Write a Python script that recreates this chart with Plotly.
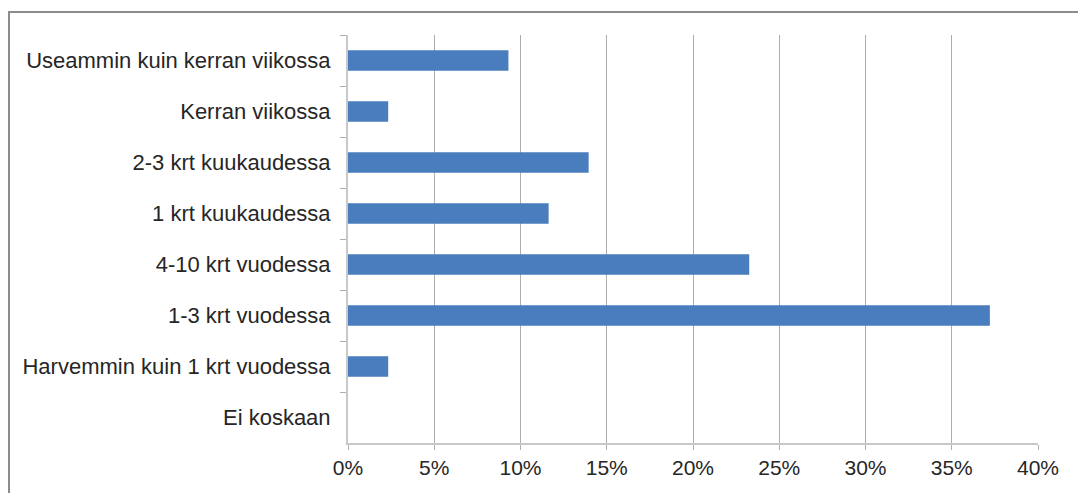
import plotly.graph_objects as go

# Response categories, top to bottom
categories = [
    "Useammin kuin kerran viikossa",
    "Kerran viikossa",
    "2-3 krt kuukaudessa",
    "1 krt kuukaudessa",
    "4-10 krt vuodessa",
    "1-3 krt vuodessa",
    "Harvemmin kuin 1 krt vuodessa",
    "Ei koskaan",
]
# Share of respondents (fraction)
shares = [0.0930, 0.0233, 0.1395, 0.1163, 0.2326, 0.3721, 0.0233, 0.0]

x_ticks = [0, 0.05, 0.10, 0.15, 0.20, 0.25, 0.30, 0.35, 0.40]

BAR = "#4a7dbd"
GRID = "#adadad"
TEXT = "#262626"
FONT = "Liberation Sans, Arial, sans-serif"

fig = go.Figure(
    go.Bar(
        x=shares,
        y=categories,
        orientation="h",
        marker=dict(color=BAR, line=dict(width=0)),
        hoverinfo="x+y",
    )
)

fig.update_layout(
    width=1078,
    height=493,
    margin=dict(l=348, r=40, t=35, b=50),
    paper_bgcolor="white",
    plot_bgcolor="white",
    bargap=0.6,
    showlegend=False,
    font=dict(family=FONT, size=22, color=TEXT),
    shapes=[
        dict(
            type="rect",
            xref="paper",
            yref="paper",
            x0=(9 - 348) / 690,
            x1=(1090 - 348) / 690,
            y0=-(505 - 443) / 408,
            y1=1 + (35 - 12) / 408,
            line=dict(color="#8c8c8c", width=2),
            fillcolor="rgba(0,0,0,0)",
            layer="below",
        )
    ],
)

fig.update_xaxes(
    range=[0, 0.40],
    tickvals=x_ticks,
    tickformat=".0%",
    showgrid=True,
    gridcolor=GRID,
    gridwidth=1,
    zeroline=False,
    showline=True,
    linecolor="#c8c8c8",
    linewidth=2,
    ticks="outside",
    ticklen=5,
    tickcolor=GRID,
    tickfont=dict(size=21, color=TEXT),
)

fig.update_yaxes(
    categoryorder="array",
    categoryarray=categories,
    autorange="reversed",
    showgrid=False,
    zeroline=False,
    showline=True,
    linecolor="#c8c8c8",
    linewidth=2,
    ticks="outside",
    tickson="boundaries",
    ticklen=6,
    tickcolor=GRID,
    ticklabelstandoff=11,
    tickfont=dict(size=22, color=TEXT),
)

fig.write_html("out.html")
